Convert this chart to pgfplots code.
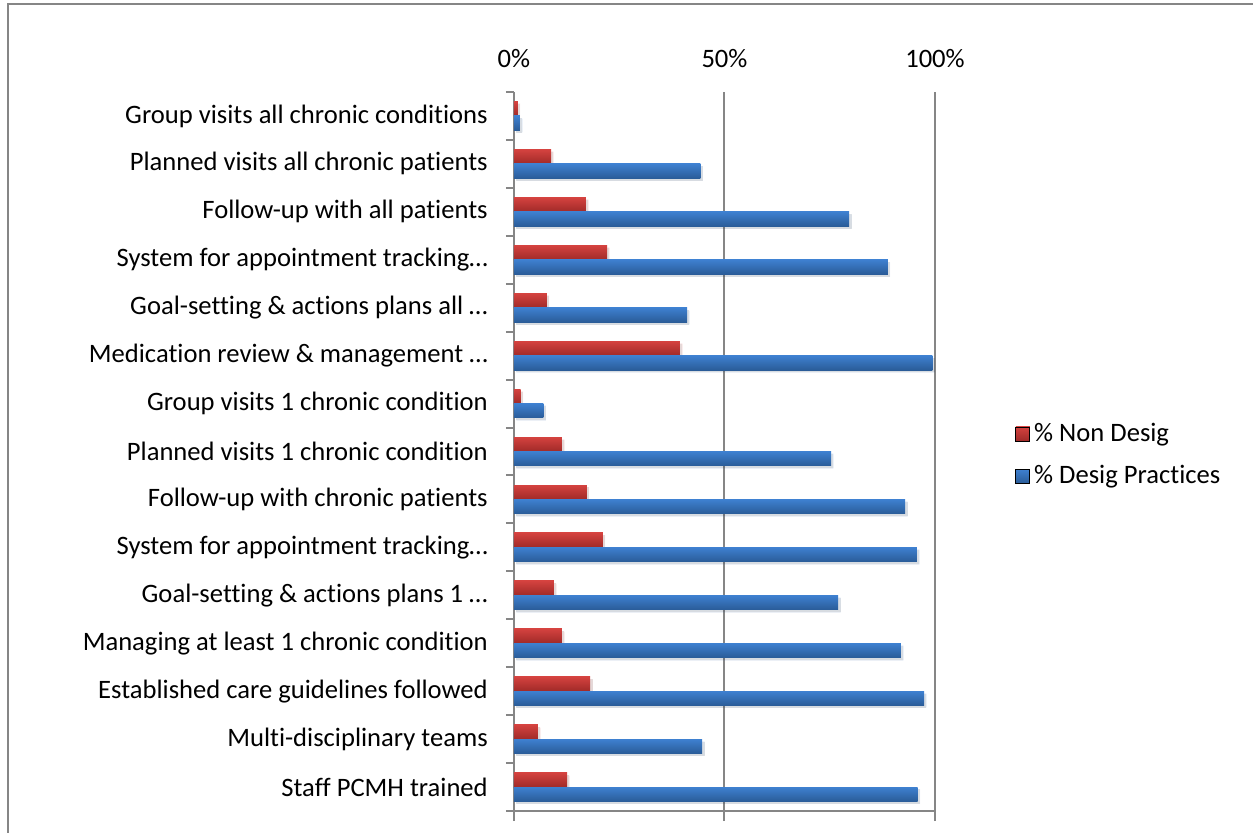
\documentclass[border=0pt]{standalone}
\usepackage{fontspec}
\setmainfont[Ligatures=NoCommon]{Carlito}
\usepackage{pgfplots}
\pgfplotsset{compat=1.18}
\usetikzlibrary{shadows}
\definecolor{redtop}{RGB}{212,66,63}
\definecolor{redbot}{RGB}{160,42,40}
\definecolor{bluetop}{RGB}{62,128,208}
\definecolor{bluebot}{RGB}{42,92,152}
\definecolor{axgray}{RGB}{134,134,134}
\pgfplotsset{
  redbar/.style={draw=none, top color=redtop, bottom color=redbot, bar shift=3.6pt, forget plot,
    drop shadow={shadow xshift=1.2pt, shadow yshift=-1.2pt, fill=black, opacity=0.09}},
  bluebar/.style={draw=none, top color=bluetop, bottom color=bluebot, bar shift=-3.6pt, forget plot,
    drop shadow={shadow xshift=1.2pt, shadow yshift=-1.2pt, fill=black, opacity=0.09}},
}
\newcommand\rb[2]{\addplot[redbar] coordinates {(#1,#2)};}
\newcommand\bb[2]{\addplot[bluebar] coordinates {(#1,#2)};}
\begin{document}
\fontsize{13.3}{16}\selectfont
\begin{tikzpicture}
\path[use as bounding box] (-257pt,-10.5pt) rectangle (369.5pt,405.5pt);
\draw[axgray, line width=1.3pt] (-253pt,-20pt) |- (380pt,403.5pt);
\begin{axis}[
  at={(0pt,0pt)}, anchor=south west,
  scale only axis, width=210.5pt, height=359.5pt,
  xbar, bar width=7.2pt,
  xmin=0, xmax=100, ymin=-0.5, ymax=14.5,
  axis line style={draw=none},
  xtick={0,50,100}, xticklabels={0\%,50\%,100\%},
  xtick pos=left, xticklabel pos=right,
  ytick pos=left,
  xtick align=outside, ytick align=outside,
  major tick length=5pt, minor tick length=4pt,
  tick style={draw=axgray, line width=1pt},
  every major y tick/.style={draw=none},
  xmajorgrids, grid style={draw=axgray, line width=1pt},
  extra y ticks={-0.5}, extra y tick labels={},
  extra y tick style={grid=major, every major y tick/.style={draw=axgray, line width=1pt}, major tick length=4pt},
  ytick={0,...,14},
  minor ytick={0.5,1.5,...,14.5},
  yticklabels={
    Staff PCMH trained,
    Multi-disciplinary teams,
    Established care guidelines followed,
    Managing at least 1 chronic condition,
    Goal-setting \& actions plans 1 …,
    System for appointment tracking…,
    Follow-up with chronic patients,
    Planned visits 1 chronic condition,
    Group visits 1 chronic condition,
    Medication review \& management …,
    Goal-setting \& actions plans all …,
    System for appointment tracking…,
    Follow-up with all patients,
    Planned visits all chronic patients,
    Group visits all chronic conditions},
  yticklabel style={font=\fontsize{13.3}{16}\selectfont, xshift=-3.5pt},
  xticklabel style={font=\fontsize{13.3}{16}\selectfont, yshift=2.5pt},
  legend style={at={(1.19,0.495)}, anchor=west, draw=none, fill=none,
    inner sep=0pt, font=\fontsize{13.3}{16}\selectfont,
    /tikz/row sep=6pt, /tikz/every even column/.append style={column sep=4.5pt}},
  legend cell align=left,
  clip=false,
]
\addlegendimage{legend image code/.code={\path[top color=redtop, bottom color=redbot] (0pt,-3.5pt) rectangle (7pt,3.5pt);}}
\addlegendentry{\% Non Desig}
\addlegendimage{legend image code/.code={\path[top color=bluetop, bottom color=bluebot] (0pt,-3.5pt) rectangle (7pt,3.5pt);}}
\addlegendentry{\% Desig Practices}
\rb{12.6}{0} \bb{95.9}{0}
\rb{5.7}{1}  \bb{44.7}{1}
\rb{18.1}{2} \bb{97.4}{2}
\rb{11.4}{3} \bb{91.9}{3}
\rb{9.5}{4}  \bb{77.0}{4}
\rb{21.1}{5} \bb{95.7}{5}
\rb{17.3}{6} \bb{92.9}{6}
\rb{11.4}{7} \bb{75.3}{7}
\rb{1.6}{8}  \bb{7.0}{8}
\rb{39.4}{9} \bb{99.4}{9}
\rb{7.8}{10} \bb{41.1}{10}
\rb{22.1}{11} \bb{88.8}{11}
\rb{17.1}{12} \bb{79.6}{12}
\rb{8.8}{13} \bb{44.3}{13}
\rb{0.9}{14} \bb{1.4}{14}
\end{axis}
\end{tikzpicture}
\end{document}
